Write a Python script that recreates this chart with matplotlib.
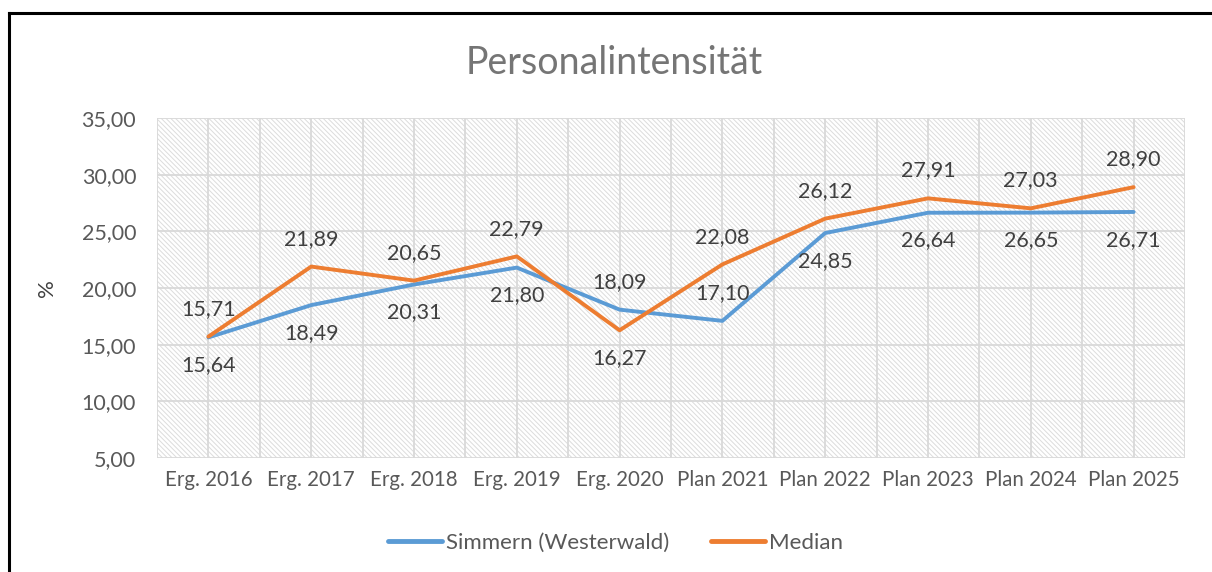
import numpy as np
import matplotlib
matplotlib.use('Agg')
import matplotlib.pyplot as plt
from matplotlib.patches import Rectangle
from matplotlib.lines import Line2D

categories = ['Erg. 2016', 'Erg. 2017', 'Erg. 2018', 'Erg. 2019', 'Erg. 2020',
              'Plan 2021', 'Plan 2022', 'Plan 2023', 'Plan 2024', 'Plan 2025']
simmern = [15.64, 18.49, 20.31, 21.80, 18.09, 17.10, 24.85, 26.64, 26.65, 26.71]
median = [15.71, 21.89, 20.65, 22.79, 16.27, 22.08, 26.12, 27.91, 27.03, 28.90]
# label side: +1 above, -1 below
simmern_side = [-1, -1, -1, -1, 1, 1, -1, -1, -1, -1]
median_side = [1, 1, 1, 1, -1, 1, 1, 1, 1, 1]
yticks = [5, 10, 15, 20, 25, 30, 35]

blue = '#5B9BD5'
orange = '#ED7D31'
txt = '#595959'
grid = '#d9d9d9'

plt.rcParams['font.family'] = ['Lato', 'DejaVu Sans']
plt.rcParams['hatch.color'] = '#dcdcdc'
plt.rcParams['hatch.linewidth'] = 0.7

fig = plt.figure(figsize=(12.12, 5.72), dpi=100)
ax = fig.add_axes([157 / 1212, 1 - 458 / 572, 1028 / 1212, 340 / 572])

x = np.arange(len(categories))
ax.set_xlim(-0.5, len(categories) - 0.5)
ax.set_ylim(5, 35)

# hatched background
bg = Rectangle((0, 0), 1, 1, transform=ax.transAxes, facecolor='white',
               edgecolor='#dcdcdc', linewidth=0, hatch='\\' * 7, zorder=0)
ax.add_patch(bg)

for v in yticks:
    ax.axhline(v, color=grid, lw=1.3, zorder=1)
for gx in np.arange(-0.5, len(categories), 0.5):
    ax.axvline(gx, color=grid, lw=1.3, zorder=1)

ax.plot(x, simmern, color=blue, lw=2.8, solid_capstyle='round', zorder=3)
ax.plot(x, median, color=orange, lw=2.8, solid_capstyle='round', zorder=4)

def fmt(v):
    return f'{v:.2f}'.replace('.', ',')

for xi, v, s in zip(x, simmern, simmern_side):
    ax.annotate(fmt(v), (xi, v), xytext=(0, 20 * s), textcoords='offset points',
                ha='center', va='center', fontsize=15.5, color='#404040', zorder=5)
for xi, v, s in zip(x, median, median_side):
    ax.annotate(fmt(v), (xi, v), xytext=(0, 20 * s), textcoords='offset points',
                ha='center', va='center', fontsize=15.5, color='#404040', zorder=5)

for sp in ax.spines.values():
    sp.set_visible(False)

ax.set_yticks(yticks)
ax.set_yticklabels([fmt(v) for v in yticks], fontsize=15.5, color=txt)
ax.set_xticks(x)
ax.set_xticklabels(categories, fontsize=14.8, color=txt)
ax.tick_params(axis='both', length=0)
ax.tick_params(axis='y', pad=15)
ax.tick_params(axis='x', pad=9)

ax.set_ylabel('%', fontsize=16, color='#404040', labelpad=18)

fig.text(0.507, 1 - 63 / 572, 'Personalintensität', ha='center', va='center',
         fontsize=27, color='#757575')

handles = [Line2D([], [], color=blue, lw=3.5, solid_capstyle='round'),
           Line2D([], [], color=orange, lw=3.5, solid_capstyle='round')]
fig.legend(handles, ['Simmern (Westerwald)', 'Median'], loc='center',
           bbox_to_anchor=(0.508, 1 - 543 / 572), ncol=2, frameon=False,
           fontsize=16, labelcolor=txt, handlelength=2.4, handletextpad=0.2,
           columnspacing=1.9)

# outer frame (top and left edges visible)
fig.add_artist(Line2D([9 / 1212, 9 / 1212], [0, 1 - 13 / 572], color='black', lw=2.2,
                      transform=fig.transFigure))
fig.add_artist(Line2D([9 / 1212, 1], [1 - 13 / 572, 1 - 13 / 572], color='black', lw=2.2,
                      transform=fig.transFigure))

fig.savefig('out.png', dpi=100, facecolor='white')
